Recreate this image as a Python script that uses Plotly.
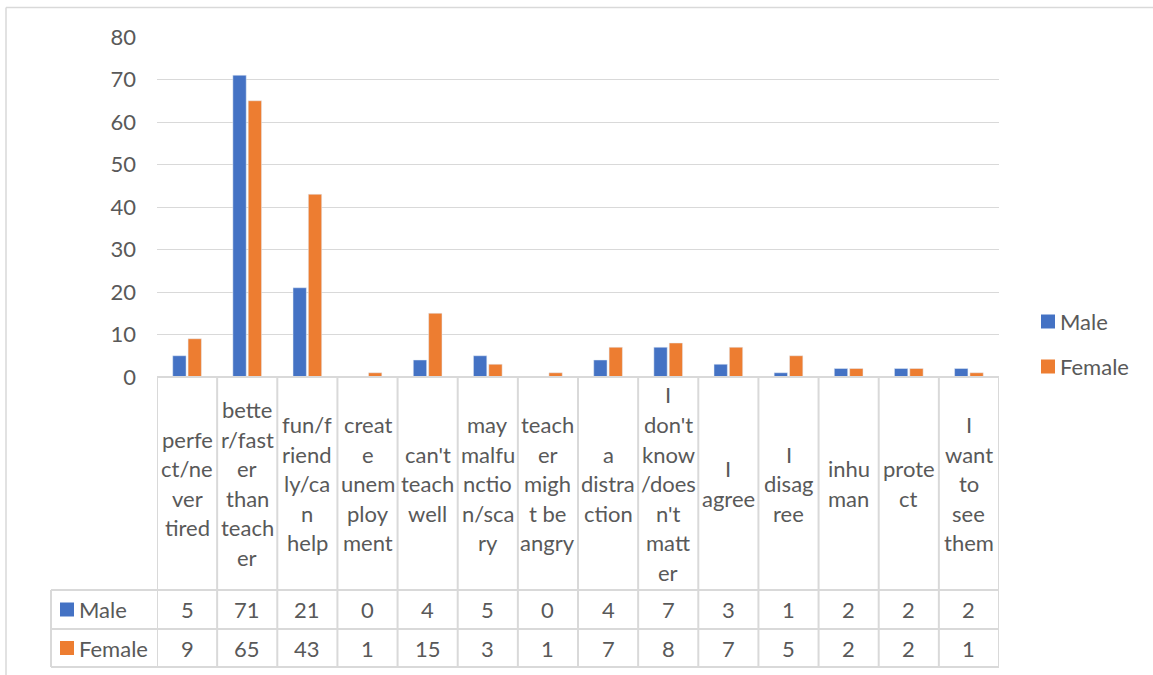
import plotly.graph_objects as go

# ---------------- data ----------------
categories = [
    "perfect/never tired",
    "better/faster than teacher",
    "fun/friendly/can help",
    "create unemployment",
    "can't teach well",
    "may malfunction/scary",
    "teacher might be angry",
    "a distraction",
    "I don't know/doesn't matter",
    "I agree",
    "I disagree",
    "inhuman",
    "protect",
    "I want to see them",
]
# category labels as wrapped in the table header
category_lines = [
    ["perfe", "ct/ne", "ver", "tired"],
    ["bette", "r/fast", "er", "than", "teach", "er"],
    ["fun/f", "riend", "ly/ca", "n", "help"],
    ["creat", "e", "unem", "ploy", "ment"],
    ["can't", "teach", "well"],
    ["may", "malfu", "nctio", "n/sca", "ry"],
    ["teach", "er", "migh", "t be", "angry"],
    ["a", "distra", "ction"],
    ["I", "don't", "know", "/does", "n't", "matt", "er"],
    ["I", "agree"],
    ["I", "disag", "ree"],
    ["inhu", "man"],
    ["prote", "ct"],
    ["I", "want", "to", "see", "them"],
]
male = [5, 71, 21, 0, 4, 5, 0, 4, 7, 3, 1, 2, 2, 2]
female = [9, 65, 43, 1, 15, 3, 1, 7, 8, 7, 5, 2, 2, 1]
series_names = ["Male", "Female"]
y_ticks = [0, 10, 20, 30, 40, 50, 60, 70, 80]

# ---------------- style ----------------
W, H = 1153, 675
BLUE = "#4472C4"
ORANGE = "#ED7D31"
GRID = "#D9D9D9"
TXT = "#595959"
FONT = "Lato"
FS = 22


def xp(px):
    return px / W


def yp(py):
    return 1 - py / H


n = len(categories)
xs = list(range(n))

fig = go.Figure()
fig.add_trace(go.Bar(x=xs, y=male, name=series_names[0], marker_color=BLUE,
                     showlegend=False))
fig.add_trace(go.Bar(x=xs, y=female, name=series_names[1], marker_color=ORANGE,
                     showlegend=False))

PLOT_L, PLOT_R = 157, 999
Y_TOP, Y_ZERO = 37, 377
HDR_BOT, ROW1_BOT, ROW2_BOT = 590, 629, 667
TABLE_L = 51

shapes = []
ann = []

# outer chart border (left and top visible)
shapes.append(dict(type="line", xref="paper", yref="paper",
                   x0=xp(6), x1=xp(6), y0=yp(7.5), y1=0,
                   line=dict(color=GRID, width=1.5)))
shapes.append(dict(type="line", xref="paper", yref="paper",
                   x0=xp(6), x1=1, y0=yp(7.5), y1=yp(7.5),
                   line=dict(color=GRID, width=1.5)))

# table vertical lines (column boundaries, in data coords)
for i in range(n + 1):
    shapes.append(dict(type="line", xref="x", yref="paper",
                       x0=i - 0.5, x1=i - 0.5, y0=yp(Y_ZERO), y1=yp(ROW2_BOT),
                       line=dict(color=GRID, width=2)))
# legend column left edge
shapes.append(dict(type="line", xref="paper", yref="paper",
                   x0=xp(TABLE_L), x1=xp(TABLE_L), y0=yp(HDR_BOT), y1=yp(ROW2_BOT),
                   line=dict(color=GRID, width=2)))
# table horizontal lines
shapes.append(dict(type="line", xref="x", yref="paper",
                   x0=-0.5, x1=n - 0.5, y0=yp(Y_ZERO), y1=yp(Y_ZERO),
                   line=dict(color=GRID, width=2)))
for yy in (HDR_BOT, ROW1_BOT, ROW2_BOT):
    shapes.append(dict(type="line", xref="paper", yref="paper",
                       x0=xp(TABLE_L), x1=xp(PLOT_R), y0=yp(yy), y1=yp(yy),
                       line=dict(color=GRID, width=2)))

# category header text
LH = 29.5
hdr_c = (Y_ZERO + HDR_BOT) / 2
for i, lines in enumerate(category_lines):
    k = len(lines)
    for j, t in enumerate(lines):
        cy = hdr_c + (j - (k - 1) / 2) * LH
        ann.append(dict(x=i, y=yp(cy), xref="x", yref="paper", text=t,
                        showarrow=False, xanchor="center", yanchor="middle",
                        font=dict(family=FONT, size=FS, color=TXT)))

# table values
row_c = [(HDR_BOT + ROW1_BOT) / 2, (ROW1_BOT + ROW2_BOT) / 2]
for r, vals in enumerate([male, female]):
    for i, v in enumerate(vals):
        ann.append(dict(x=i, y=yp(row_c[r]), xref="x", yref="paper", text=str(v),
                        showarrow=False, xanchor="center", yanchor="middle",
                        font=dict(family=FONT, size=FS, color=TXT)))

# table legend keys
for r, (nm, col) in enumerate(zip(series_names, [BLUE, ORANGE])):
    cy = row_c[r]
    shapes.append(dict(type="rect", xref="paper", yref="paper",
                       x0=xp(60), x1=xp(74), y0=yp(cy - 7), y1=yp(cy + 7),
                       fillcolor=col, line=dict(width=0)))
    ann.append(dict(x=xp(77), y=yp(cy), xref="paper", yref="paper", text=nm,
                    showarrow=False, xanchor="left", yanchor="middle",
                    font=dict(family=FONT, size=FS, color=TXT)))

# right legend
for r, (nm, col, cy) in enumerate(zip(series_names, [BLUE, ORANGE], [321.5, 366.5])):
    shapes.append(dict(type="rect", xref="paper", yref="paper",
                       x0=xp(1041), x1=xp(1055), y0=yp(cy - 7), y1=yp(cy + 7),
                       fillcolor=col, line=dict(width=0)))
    ann.append(dict(x=xp(1058), y=yp(cy), xref="paper", yref="paper", text=nm,
                    showarrow=False, xanchor="left", yanchor="middle",
                    font=dict(family=FONT, size=FS, color=TXT)))

fig.update_layout(
    width=W, height=H, autosize=False,
    margin=dict(l=0, r=0, t=0, b=0, autoexpand=False),
    paper_bgcolor="white", plot_bgcolor="white",
    barmode="group", bargap=0.49, bargroupgap=0.13,
    shapes=shapes, annotations=ann,
    xaxis=dict(domain=[xp(PLOT_L), xp(PLOT_R)], range=[-0.5, n - 0.5],
               showticklabels=False, showgrid=False, zeroline=False,
               showline=False, fixedrange=True, automargin=False),
    yaxis=dict(domain=[yp(Y_ZERO), yp(Y_TOP)], range=[0, 80],
               tickvals=y_ticks, showgrid=True, gridcolor=GRID, gridwidth=1.3,
               zeroline=False, showline=False, ticks="", automargin=False,
               ticklabelstandoff=20,
               tickfont=dict(family=FONT, size=FS, color=TXT)),
    font=dict(family=FONT, color=TXT),
)

fig.write_html("out.html")
